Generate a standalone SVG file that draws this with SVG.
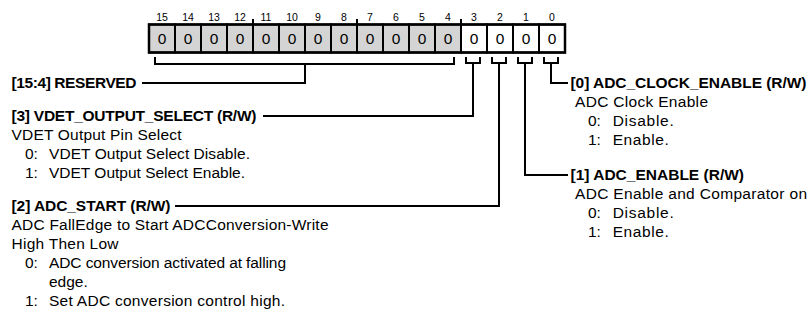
<svg xmlns="http://www.w3.org/2000/svg" width="812" height="321" viewBox="0 0 812 321">
<style>
text{font-family:"Liberation Sans",Arial,sans-serif;fill:#000}
.num{font-size:10.5px;text-anchor:middle}
.val{font-size:15.5px;text-anchor:middle}
.h{font-size:15.5px;font-weight:bold}
.t{font-size:15.5px}
.res{fill:#d4d4d4;stroke:#000;stroke-width:2}
.rw{fill:#fff;stroke:#000;stroke-width:2}
.ln{fill:none;stroke:#000;stroke-width:2}
</style>
<rect width="812" height="321" fill="#fff"/>
<g id="register">
<rect x="149" y="24.5" width="416" height="28" fill="#000"/>
<rect class="res" x="149" y="24.5" width="26" height="28"/>
<rect class="res" x="175" y="24.5" width="26" height="28"/>
<rect class="res" x="201" y="24.5" width="26" height="28"/>
<rect class="res" x="227" y="24.5" width="26" height="28"/>
<rect class="res" x="253" y="24.5" width="26" height="28"/>
<rect class="res" x="279" y="24.5" width="26" height="28"/>
<rect class="res" x="305" y="24.5" width="26" height="28"/>
<rect class="res" x="331" y="24.5" width="26" height="28"/>
<rect class="res" x="357" y="24.5" width="26" height="28"/>
<rect class="res" x="383" y="24.5" width="26" height="28"/>
<rect class="res" x="409" y="24.5" width="26" height="28"/>
<rect class="res" x="435" y="24.5" width="26" height="28"/>
<rect class="rw" x="461" y="24.5" width="26" height="28"/>
<rect class="rw" x="487" y="24.5" width="26" height="28"/>
<rect class="rw" x="513" y="24.5" width="26" height="28"/>
<rect class="rw" x="539" y="24.5" width="26" height="28"/>
<rect x="149" y="24.5" width="416" height="28" fill="none" stroke="#000" stroke-width="2.5"/>
<path class="ln" d="M253,19V24.5M357,19V24.5M461,19V24.5"/>
<text class="num" x="162" y="20.5">15</text>
<text class="num" x="188" y="20.5">14</text>
<text class="num" x="214" y="20.5">13</text>
<text class="num" x="240" y="20.5">12</text>
<text class="num" x="266" y="20.5">11</text>
<text class="num" x="292" y="20.5">10</text>
<text class="num" x="318" y="20.5">9</text>
<text class="num" x="344" y="20.5">8</text>
<text class="num" x="370" y="20.5">7</text>
<text class="num" x="396" y="20.5">6</text>
<text class="num" x="422" y="20.5">5</text>
<text class="num" x="448" y="20.5">4</text>
<text class="num" x="474" y="20.5">3</text>
<text class="num" x="500" y="20.5">2</text>
<text class="num" x="526" y="20.5">1</text>
<text class="num" x="552" y="20.5">0</text>
<text class="val" x="162" y="44">0</text>
<text class="val" x="188" y="44">0</text>
<text class="val" x="214" y="44">0</text>
<text class="val" x="240" y="44">0</text>
<text class="val" x="266" y="44">0</text>
<text class="val" x="292" y="44">0</text>
<text class="val" x="318" y="44">0</text>
<text class="val" x="344" y="44">0</text>
<text class="val" x="370" y="44">0</text>
<text class="val" x="396" y="44">0</text>
<text class="val" x="422" y="44">0</text>
<text class="val" x="448" y="44">0</text>
<text class="val" x="474" y="44">0</text>
<text class="val" x="500" y="44">0</text>
<text class="val" x="526" y="44">0</text>
<text class="val" x="552" y="44">0</text>
</g>
<g id="connectors">
<path class="ln" d="M155,57V64H454V57M305,64V83H142"/>
<path class="ln" d="M466,57V63H480V57M473,63V116H263"/>
<path class="ln" d="M492,57V63H506V57M499,63V206H175"/>
<path class="ln" d="M518,57V63H532V57M525,63V175H568"/>
<path class="ln" d="M544,57V63H558V57M551,63V83H568"/>
</g>
<g id="field-15-4">
<text class="h" x="11.5" y="88" textLength="125" lengthAdjust="spacing">[15:4] RESERVED</text>
</g>
<g id="field-3">
<text class="h" x="11.5" y="121" textLength="245" lengthAdjust="spacing">[3] VDET_OUTPUT_SELECT (R/W)</text>
<text class="t" x="11.5" y="140" textLength="170" lengthAdjust="spacing">VDET Output Pin Select</text>
<text class="t" x="25" y="159">0:<tspan x="49" textLength="201" lengthAdjust="spacing">VDET Output Select Disable.</tspan></text>
<text class="t" x="25" y="178">1:<tspan x="49" textLength="196" lengthAdjust="spacing">VDET Output Select Enable.</tspan></text>
</g>
<g id="field-2">
<text class="h" x="11.5" y="211" textLength="159" lengthAdjust="spacing">[2] ADC_START (R/W)</text>
<text class="t" x="11.5" y="230" textLength="317" lengthAdjust="spacing">ADC FallEdge to Start ADCConversion-Write</text>
<text class="t" x="11.5" y="249" textLength="107" lengthAdjust="spacing">High Then Low</text>
<text class="t" x="25" y="268">0:<tspan x="49" textLength="237" lengthAdjust="spacing">ADC conversion activated at falling</tspan></text>
<text class="t" x="49" y="287">edge.</text>
<text class="t" x="25" y="306">1:<tspan x="49" textLength="236" lengthAdjust="spacing">Set ADC conversion control high.</tspan></text>
</g>
<g id="field-0">
<text class="h" x="570.5" y="88" textLength="236" lengthAdjust="spacing">[0] ADC_CLOCK_ENABLE (R/W)</text>
<text class="t" x="575" y="107" textLength="133" lengthAdjust="spacing">ADC Clock Enable</text>
<text class="t" x="588" y="126">0:<tspan x="612.7" textLength="61" lengthAdjust="spacing">Disable.</tspan></text>
<text class="t" x="588" y="145">1:<tspan x="612.7" textLength="56" lengthAdjust="spacing">Enable.</tspan></text>
</g>
<g id="field-1">
<text class="h" x="570.5" y="180" textLength="173.5" lengthAdjust="spacing">[1] ADC_ENABLE (R/W)</text>
<text class="t" x="575" y="199" textLength="232" lengthAdjust="spacing">ADC Enable and Comparator on</text>
<text class="t" x="588" y="218">0:<tspan x="612.7" textLength="61" lengthAdjust="spacing">Disable.</tspan></text>
<text class="t" x="588" y="237">1:<tspan x="612.7" textLength="56" lengthAdjust="spacing">Enable.</tspan></text>
</g>
</svg>
